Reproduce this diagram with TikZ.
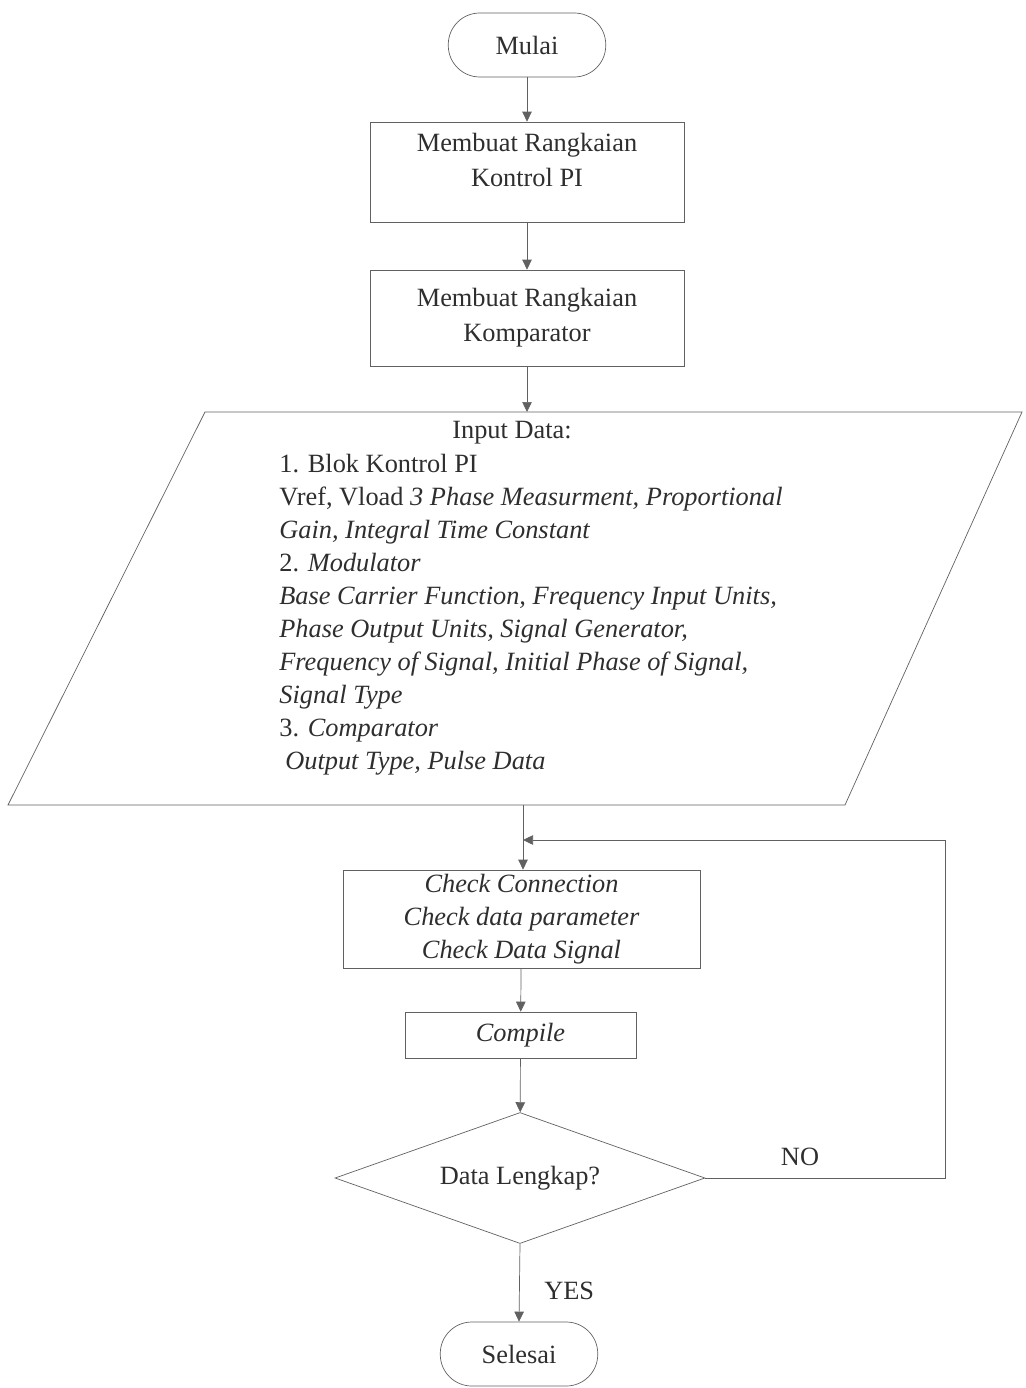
\documentclass[tikz,border=0pt]{standalone}
\usepackage{fontspec}
\setmainfont{Liberation Serif}
\usepackage{tikz}
\usetikzlibrary{arrows.meta}
\usetikzlibrary{positioning,shapes.geometric}
\colorlet{lineclr}{black!62}
\colorlet{textclr}{black!82}

\begin{document}
\begin{tikzpicture}[
x=0.02cm, y=-0.02cm,
Terminal/.style={draw=lineclr,thin,rounded corners=0.63cm,minimum width=3.15cm,minimum height=1.28cm},
Process/.style={draw=lineclr,thin,align=center,inner sep=0pt},
Decision/.style={draw=lineclr,thin,diamond,inner sep=0pt,aspect=2.8,minimum width=7.4cm,minimum height=2.62cm},
Flow/.style={draw=lineclr,thin,-{Triangle[length=2mm,width=1.9mm]}},
Plain/.style={draw=lineclr,thin},
every node/.style={text=textclr,font=\fontsize{15}{20}\selectfont}
]
\useasboundingbox (0,0) rectangle (1025,1388);

% start / stop
\node[Terminal] (mulai) at (527,45) {Mulai};
\node[Terminal] (selesai) at (519,1354) {Selesai};

% the two build steps
\node[Process,minimum width=6.28cm,minimum height=2cm,text depth=0.5cm] (pi) at (527,172)
  {Membuat Rangkaian\\Kontrol PI};
\node[Process,minimum width=6.28cm,minimum height=1.92cm] (komp) at (527,318)
  {Membuat Rangkaian\\Komparator};

% input data block (parallelogram)
\coordinate (tl) at (205,412);
\coordinate (tr) at (1022,412);
\coordinate (br) at (845,805);
\coordinate (bl) at (8,805);
\draw[Plain] (tl) -- (tr) -- (br) -- (bl) -- cycle;
\coordinate (inTop) at (komp.south |- tl);
\coordinate (inBot) at (523,805);

\node (inTitle) at (512,433) {Input Data:};
\node[anchor=north west,align=left,inner sep=0pt,
  font=\fontsize{15}{18.8}\selectfont] (inList) at (279,454) {%
1. Blok Kontrol PI\\
Vref, Vload \textit{3 Phase Measurment, Proportional}\\
\textit{Gain, Integral Time Constant}\\
2. \textit{Modulator}\\
\textit{Base Carrier Function, Frequency Input Units,}\\
\textit{Phase Output Units, Signal Generator,}\\
\textit{Frequency of Signal, Initial Phase of Signal,}\\
\textit{Signal Type}\\
3. \textit{Comparator}\\
\hspace{0.12cm}\textit{Output Type, Pulse Data}};

% checking and compiling
\node[Process,minimum width=7.14cm,minimum height=1.96cm,
  font=\fontsize{15}{18.8}\selectfont\itshape] (chk) at (521.5,919)
  {Check Connection\\Check data parameter\\Check Data Signal};
\node[Process,minimum width=4.62cm,minimum height=0.92cm,
  font=\fontsize{15}{20}\selectfont\itshape] (comp) at (520.5,1035) {Compile};

\node[Decision] (dec) at (520,1178) {Data Lengkap?};

% flow lines
\coordinate (chkTop) at (inBot |- chk.north);
\draw[Flow] (mulai) -- (pi);
\draw[Flow] (pi) -- (komp);
\draw[Flow] (komp.south) -- (inTop);
\draw[Flow] (inBot) -- (chkTop);
\draw[Flow] (chk) -- (comp);
\draw[Flow] (comp) -- (dec);
\draw[Flow] (dec.south) -- (selesai.north) node[pos=0.6,right=14pt,inner sep=0pt] {YES};

% back to the check step when data is incomplete
\coordinate (join) at (523,840);
\coordinate (loopC) at (945,840);
\draw[Flow] (dec.east) -| (loopC) -- (join);
\node (no) at (800,1157) {NO};

\end{tikzpicture}
\end{document}
